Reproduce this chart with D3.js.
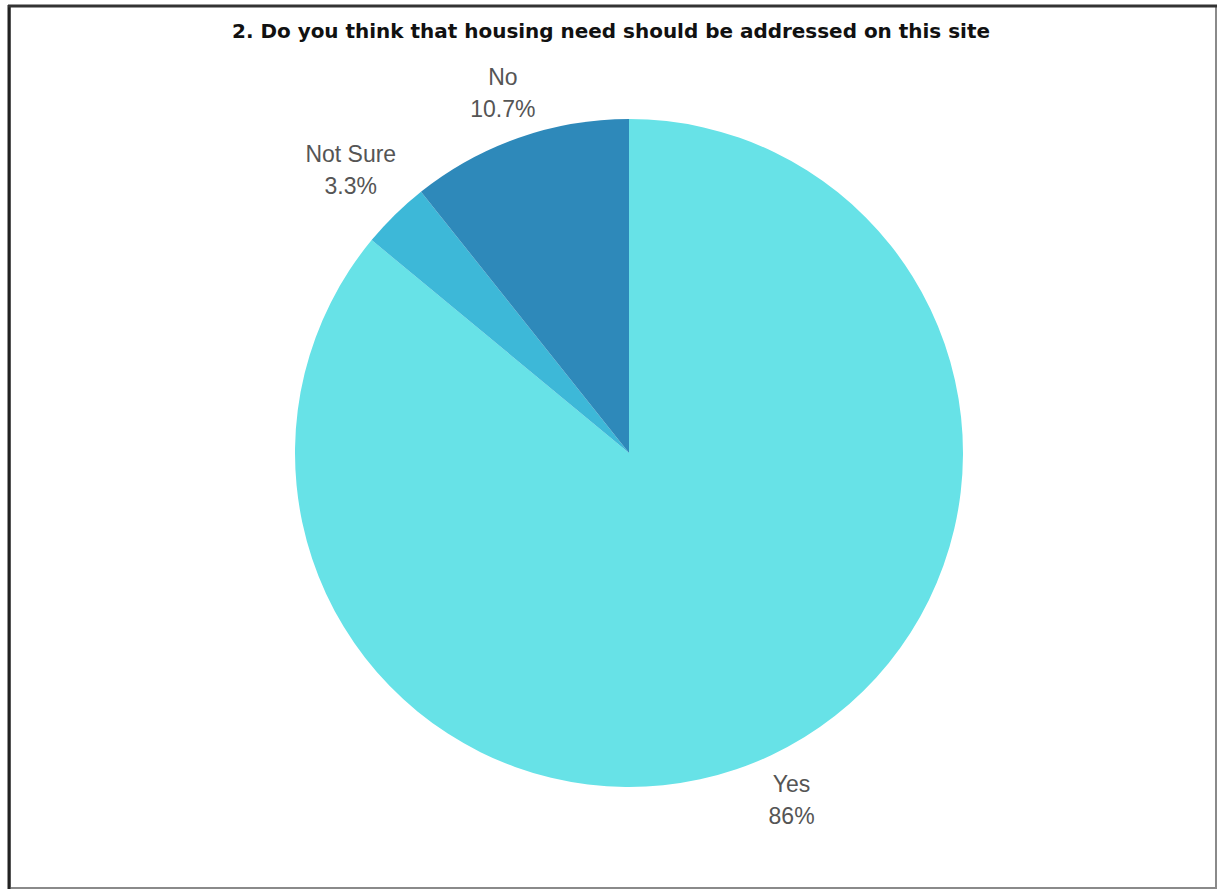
<!DOCTYPE html>
<html>
<head>
<meta charset="utf-8">
<script src="https://cdn.jsdelivr.net/npm/d3@7"></script>
<style>
    body { margin: 0; background: #fff; }
</style>
</head>
<body>
<div id="chart"></div>
<script>
const categories = ['Yes', 'Not Sure', 'No'];
const values = [86, 3.3, 10.7];
const valueLabels = ['86%', '3.3%', '10.7%'];
const colors = ['#67e2e7', '#3db8d8', '#2e89ba'];
const title = '2. Do you think that housing need should be addressed on this site';

const width = 1219, height = 892;
const cx = 629, cy = 453, radius = 334;

const svg = d3.select('#chart')
    .append('svg')
    .attr('width', width)
    .attr('height', height);

// frame
svg.append('rect')
    .attr('x', 10).attr('y', 6)
    .attr('width', 1206).attr('height', 882)
    .attr('fill', '#fff')
    .attr('stroke', '#8a8a8a')
    .attr('stroke-width', 2);
svg.append('line').attr('x1', 9).attr('x2', 9).attr('y1', 5).attr('y2', 889)
    .attr('stroke', '#222').attr('stroke-width', 3);
svg.append('line').attr('x1', 8).attr('x2', 1217).attr('y1', 6).attr('y2', 6)
    .attr('stroke', '#333').attr('stroke-width', 3);

svg.append('text')
    .attr('x', 611).attr('y', 38)
    .attr('text-anchor', 'middle')
    .attr('font-family', 'DejaVu Sans Condensed, sans-serif')
    .attr('font-weight', 'bold')
    .attr('font-size', 19)
    .attr('textLength', 758)
    .attr('lengthAdjust', 'spacingAndGlyphs')
    .attr('fill', '#111')
    .text(title);

const data = categories.map((c, i) => ({ name: c, value: values[i], label: valueLabels[i], color: colors[i] }));

const pie = d3.pie().sort(null).value(d => d.value);
const arc = d3.arc().innerRadius(0).outerRadius(radius);

const g = svg.append('g').attr('transform', `translate(${cx},${cy})`);

const arcs = pie(data);

g.selectAll('path')
    .data(arcs)
    .enter()
    .append('path')
    .attr('d', arc)
    .attr('fill', d => d.data.color);

// labels outside the pie, two lines each
const labelFont = 'Liberation Sans, Arial, sans-serif';
arcs.forEach(d => {
    const mid = (d.startAngle + d.endAngle) / 2;
    const t = g.append('text')
        .attr('text-anchor', 'middle')
        .attr('font-family', labelFont)
        .attr('font-size', 23)
        .attr('fill', '#555');
    const name = t.append('tspan').text(d.data.name);
    const pct = t.append('tspan').text(d.data.label);
    const halfW = Math.max(name.node().getComputedTextLength(), pct.node().getComputedTextLength()) / 2;
    const r = radius + 41 + halfW * Math.abs(Math.sin(mid)) * 0.7;
    const x = Math.sin(mid) * r;
    const y = -Math.cos(mid) * r;
    name.attr('x', x).attr('y', y - 7);
    pct.attr('x', x).attr('y', y + 25);
});
</script>
</body>
</html>
